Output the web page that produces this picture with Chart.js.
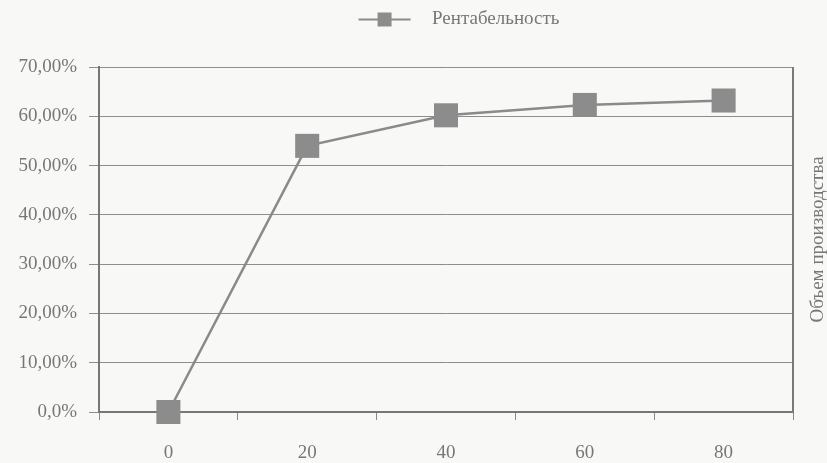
<!DOCTYPE html>
<html>
<head>
<meta charset="utf-8">
<script src="https://cdn.jsdelivr.net/npm/chart.js@4.4.1/dist/chart.umd.min.js"></script>
<style>
  html, body { margin: 0; padding: 0; background: #f8f8f6; }
</style>
</head>
<body>
<canvas id="lineChart" width="827" height="463"></canvas>
<script>
const volumes = ['0', '20', '40', '60', '80'];
const profitability = [0, 54.0, 60.2, 62.3, 63.2];
const yTicks = [0, 10, 20, 30, 40, 50, 60, 70];
const yTickLabels = ['0,0%', '10,00%', '20,00%', '30,00%', '40,00%', '50,00%', '60,00%', '70,00%'];
const seriesName = 'Рентабельность';
const rightTitle = 'Объем производства';

const serif = '"Liberation Serif", "DejaVu Serif", serif';

// legend sample: short line with a square in the middle (left margin keeps the text where it was)
const legendMark = document.createElement('canvas');
legendMark.width = 90;
legendMark.height = 16;
const lc = legendMark.getContext('2d');
lc.strokeStyle = '#8a8a8a';
lc.lineWidth = 2;
lc.beginPath(); lc.moveTo(26, 8); lc.lineTo(78, 8); lc.stroke();
lc.fillStyle = '#8c8c8c';
lc.fillRect(45, 1, 14, 14);

const frameAndTitle = {
  id: 'frameAndTitle',
  afterDraw(chart) {
    const { ctx, chartArea } = chart;
    ctx.save();
    ctx.strokeStyle = '#7a7a7a';
    ctx.lineWidth = 2;
    ctx.beginPath();
    ctx.moveTo(chartArea.right, chartArea.top);
    ctx.lineTo(chartArea.right, chartArea.bottom);
    ctx.stroke();
    ctx.translate(818, (chartArea.top + chartArea.bottom) / 2);
    ctx.rotate(-Math.PI / 2);
    ctx.font = '19px ' + serif;
    ctx.fillStyle = '#777';
    ctx.textAlign = 'center';
    ctx.textBaseline = 'middle';
    ctx.fillText(rightTitle, 0, 0);
    ctx.restore();
  }
};

const ctx = document.getElementById('lineChart');

new Chart(ctx, {
  type: 'line',
  data: {
    labels: volumes,
    datasets: [{
      label: seriesName,
      data: profitability,
      borderColor: '#8a8a8a',
      borderWidth: 2.5,
      backgroundColor: '#8c8c8c',
      pointStyle: 'rect',
      pointRadius: 17,
      pointBorderWidth: 0,
      pointBackgroundColor: '#8c8c8c',
      tension: 0,
      clip: false
    }]
  },
  options: {
    responsive: false,
    animation: false,
    layout: { padding: { top: 0, right: 34, bottom: 0, left: 0 } },
    plugins: {
      tooltip: { enabled: false },
      legend: {
        fullSize: false,
        labels: {
          usePointStyle: true,
          pointStyle: legendMark,
          pointStyleWidth: 90,
          color: '#777',
          font: { family: serif, size: 19 }
        }
      },
      // empty title used only as a spacer between legend and plot
      title: {
        display: true,
        text: '',
        weight: 500,
        font: { size: 10 },
        padding: { top: 0, bottom: 16 }
      }
    },
    scales: {
      x: {
        offset: true,
        grid: { offset: true, drawOnChartArea: false, tickLength: 8, color: '#888' },
        border: { color: '#777', width: 2 },
        ticks: { color: '#777', padding: 22, font: { family: serif, size: 19 } },
        afterFit: s => { s.height = 51; }
      },
      y: {
        min: 0,
        max: 70,
        afterBuildTicks: s => { s.ticks = yTicks.map(v => ({ value: v })); },
        grid: { color: '#8d8d8d', lineWidth: 1, tickLength: 10 },
        border: { color: '#777', width: 2 },
        ticks: {
          color: '#777',
          padding: 12,
          font: { family: serif, size: 19 },
          callback: v => yTickLabels[yTicks.indexOf(v)]
        },
        afterFit: s => { s.width = 99; }
      }
    }
  },
  plugins: [frameAndTitle]
});
</script>
</body>
</html>
